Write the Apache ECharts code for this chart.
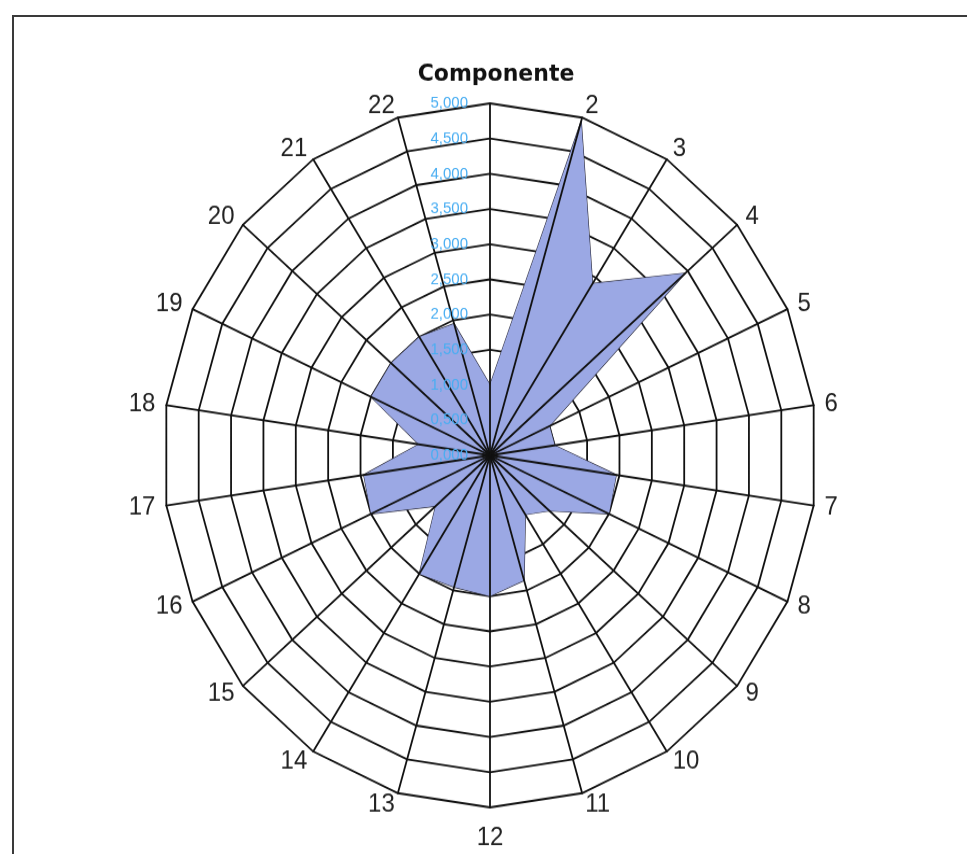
<!DOCTYPE html>
<html>
<head>
<meta charset="utf-8">
<script src="https://cdn.jsdelivr.net/npm/echarts@6/dist/echarts.min.js"></script>
<style>
  html, body { margin: 0; padding: 0; background: #fff; overflow: hidden; }
  #frame { position: absolute; left: 12px; top: 15px; width: 990px; height: 900px;
           border-top: 2px solid #3a3a3a; border-left: 2px solid #3a3a3a; }
  /* the scanned original is slightly stretched vertically */
  #chart { position: absolute; left: 0; top: 0; width: 967px; height: 794px;
           transform: scaleY(1.0765); transform-origin: 0 0; }
</style>
</head>
<body>
<div id="frame"></div>
<div id="chart"></div>
<script>
// categorias (raios) e valores
var categories = ["1", "2", "3", "4", "5", "6", "7", "8", "9", "10", "11",
                  "12", "13", "14", "15", "16", "17", "18", "19", "20", "21", "22"];
var values = [1.0, 4.95, 2.9, 3.95, 1.0, 1.0, 1.95, 2.0, 1.2, 1.0, 1.85,
              2.0, 1.95, 2.0, 1.1, 2.0, 1.95, 1.1, 2.0, 2.0, 2.0, 1.95];
var axisMin = 0;
var axisMax = 5;
var splitCount = 10;

// echarts desenha os raios no sentido anti-horario, o original no sentido horario
var order = [0];
for (var i = categories.length - 1; i > 0; i--) order.push(i);

var indicators = order.map(function (k) {
  return { name: categories[k], min: axisMin, max: axisMax };
});
var spokeIndicators = order.map(function (k, j) {
  var ind = { name: categories[k], min: axisMin, max: axisMax };
  if (j === 0) {
    ind.axisLabel = {
      show: true,
      color: "#4aaef2",
      fontSize: 15,
      margin: 22,
      fontFamily: "Liberation Sans, Arial",
      formatter: function (v) { return v.toFixed(3).replace(".", ","); }
    };
  }
  return ind;
});
var seriesValues = order.map(function (k) { return values[k]; });

var myChart = echarts.init(document.getElementById("chart"), null, { renderer: "canvas" });

var option = {
  animation: false,
  title: {
    text: "Componente",
    left: 491,
    top: 53,
    textAlign: "center",
    textStyle: { fontFamily: "DejaVu Sans, Arial", fontSize: 22, fontWeight: "bold", color: "#111" }
  },
  radar: [
    {
      // aneis + nomes, por baixo da area
      indicator: indicators,
      center: [490, 423],
      radius: 327,
      startAngle: 90,
      shape: "polygon",
      splitNumber: splitCount,
      nameGap: 11,
      axisName: {
        color: "#222",
        fontSize: 24,
        padding: [5, 0, 3, 0],
        fontFamily: "Liberation Sans, Arial",
        formatter: function (name) { return name === "1" ? "" : name; }
      },
      splitLine: { lineStyle: { color: "#111", width: 1.8 } },
      splitArea: { show: false },
      axisLine: { show: false },
      axisTick: { show: false },
      axisLabel: { show: false },
      z: 0
    },
    {
      // raios + rotulos do eixo, por cima da area
      indicator: spokeIndicators,
      center: [490, 423],
      radius: 327,
      startAngle: 90,
      shape: "polygon",
      splitNumber: splitCount,
      axisName: { show: false },
      splitLine: { show: false },
      splitArea: { show: false },
      axisLine: { lineStyle: { color: "#111", width: 1.8 } },
      axisTick: { show: false },
      axisLabel: { show: false },
      z: 5
    }
  ],
  series: [
    {
      type: "radar",
      radarIndex: 0,
      z: 2,
      symbol: "none",
      lineStyle: { color: "#2a2a3a", width: 1.2 },
      areaStyle: { color: "#9ba8e4", opacity: 1 },
      data: [{ value: seriesValues, name: "Componente" }]
    }
  ]
};

myChart.setOption(option);
</script>
</body>
</html>
